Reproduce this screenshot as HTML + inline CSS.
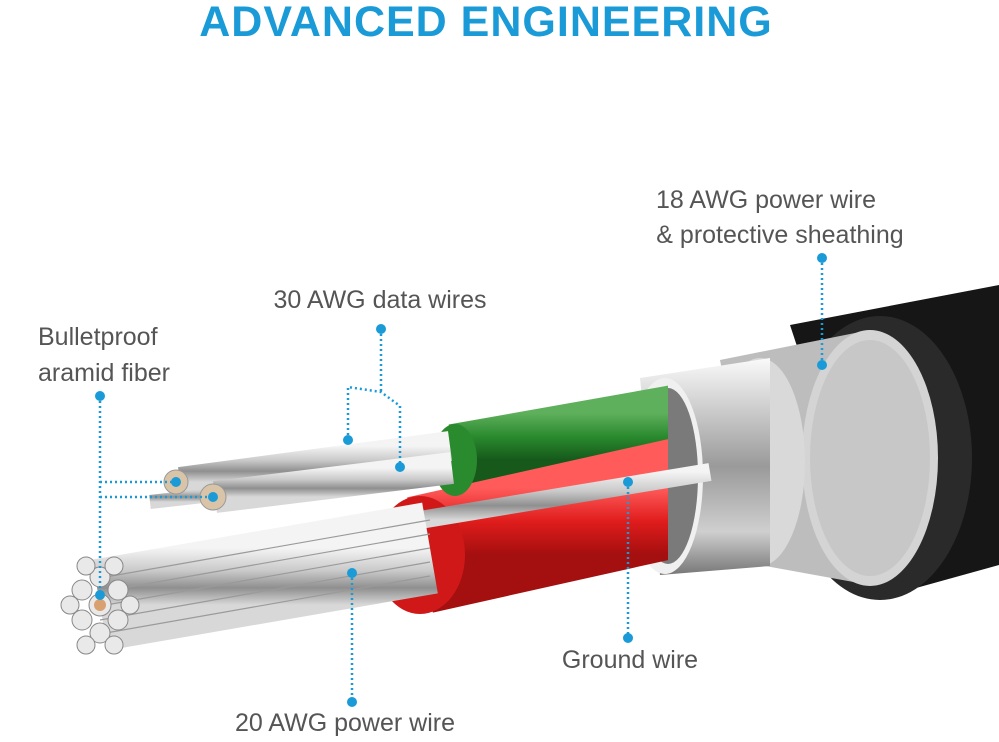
<!DOCTYPE html>
<html><head><meta charset="utf-8"><style>
html,body{margin:0;padding:0;background:#fff;}
svg{display:block;}
text{font-family:"Liberation Sans",sans-serif;}
</style></head><body>
<svg width="999" height="742" viewBox="0 0 999 742" xmlns="http://www.w3.org/2000/svg">
<defs>
<linearGradient id="met" x1="0" y1="0" x2="0" y2="1">
<stop offset="0" stop-color="#f4f4f4"/><stop offset="0.4" stop-color="#c9c9c9"/><stop offset="0.7" stop-color="#8f8f8f"/><stop offset="1" stop-color="#d8d8d8"/></linearGradient>
<linearGradient id="tube" x1="0" y1="0" x2="0" y2="1">
<stop offset="0" stop-color="#fafafa"/><stop offset="0.5" stop-color="#9a9a9a"/><stop offset="0.8" stop-color="#cfcfcf"/><stop offset="1" stop-color="#777"/></linearGradient>
<linearGradient id="red" x1="0" y1="0" x2="0" y2="1">
<stop offset="0" stop-color="#ff5b5b"/><stop offset="0.5" stop-color="#e01c1c"/><stop offset="1" stop-color="#a40f0f"/></linearGradient>
<linearGradient id="grn" x1="0" y1="0" x2="0" y2="1">
<stop offset="0" stop-color="#5fb05c"/><stop offset="0.5" stop-color="#2a8a2e"/><stop offset="1" stop-color="#16591b"/></linearGradient>
<clipPath id="cl"><rect x="0" y="0" width="668" height="742"/></clipPath>
</defs>
<text x="486" y="36" font-size="43" font-weight="bold" fill="#1a9bd7" text-anchor="middle" letter-spacing="1">ADVANCED ENGINEERING</text>

<!-- black jacket -->
<polygon points="790,325 999,285 999,565 880,598" fill="#161616"/>
<ellipse cx="880" cy="458" rx="92" ry="142" fill="#2a2a2a"/>
<!-- braided shield -->
<polygon points="720,360 870,330 870,585 760,565" fill="#bdbdbd"/>
<ellipse cx="870" cy="458" rx="68" ry="128" fill="#d4d4d4"/>
<ellipse cx="870" cy="458" rx="60" ry="118" fill="#c2c2c2" opacity="0.7"/>
<ellipse cx="760" cy="462" rx="45" ry="104" fill="#d9d9d9"/>
<!-- foil tube -->
<polygon points="640,378 770,358 770,566 660,575" fill="url(#tube)"/>
<ellipse cx="665" cy="476" rx="38" ry="98" fill="#f0f0f0"/>
<ellipse cx="668" cy="476" rx="30" ry="88" fill="#7a7a7a"/>
<g clip-path="url(#cl)">
<!-- green -->
<line x1="455" y1="460" x2="720" y2="413" stroke="url(#grn)" stroke-width="72" stroke-linecap="butt"/>
<!-- red -->
<line x1="420" y1="555" x2="720" y2="488" stroke="url(#red)" stroke-width="118" stroke-linecap="butt"/>
</g>
<ellipse cx="455" cy="460" rx="22" ry="36" fill="#2a8a2e"/>
<ellipse cx="420" cy="555" rx="45" ry="59" fill="#d01818"/>
<!-- data wires -->
<line x1="180" y1="482" x2="450" y2="446" stroke="url(#met)" stroke-width="30"/>
<line x1="150" y1="502" x2="300" y2="485" stroke="url(#met)" stroke-width="14"/>
<line x1="215" y1="497" x2="452" y2="468" stroke="url(#met)" stroke-width="32"/>
<circle cx="176" cy="482" r="12" fill="#d9c4a8" stroke="#999"/>
<circle cx="213" cy="497" r="13" fill="#d9c4a8" stroke="#999"/>
<!-- ground wire -->
<line x1="420" y1="520" x2="710" y2="472" stroke="url(#met)" stroke-width="18"/>
<!-- main silver bundle -->
<line x1="100" y1="605" x2="430" y2="548" stroke="url(#met)" stroke-width="92"/>
<g stroke="#9a9a9a" stroke-width="1.2">
<line x1="100" y1="578" x2="430" y2="520"/><line x1="100" y1="592" x2="430" y2="534"/>
<line x1="100" y1="606" x2="430" y2="548"/><line x1="100" y1="620" x2="430" y2="562"/>
<line x1="100" y1="634" x2="430" y2="576"/></g>
<g fill="#e9e9e9" stroke="#888">
<circle cx="100" cy="605" r="11"/><circle cx="82" cy="590" r="10"/><circle cx="118" cy="590" r="10"/>
<circle cx="82" cy="620" r="10"/><circle cx="118" cy="620" r="10"/><circle cx="100" cy="577" r="10"/>
<circle cx="100" cy="633" r="10"/><circle cx="70" cy="605" r="9"/><circle cx="130" cy="605" r="9"/>
<circle cx="86" cy="645" r="9"/><circle cx="114" cy="645" r="9"/><circle cx="86" cy="566" r="9"/><circle cx="114" cy="566" r="9"/></g>
<circle cx="100" cy="605" r="6" fill="#d9a070"/>

<!-- callouts -->
<g stroke="#1a9bd7" stroke-width="2.5" stroke-dasharray="2 3" fill="none">
<line x1="822" y1="258" x2="822" y2="365"/>
<polyline points="381,329 381,392"/>
<polyline points="348,440 348,387 381,392 400,406 400,467"/>
<line x1="100" y1="396" x2="100" y2="595"/>
<line x1="100" y1="482" x2="176" y2="482"/>
<line x1="100" y1="497" x2="213" y2="497"/>
<line x1="352" y1="573" x2="352" y2="702"/>
<line x1="628" y1="482" x2="628" y2="638"/>
</g>
<g fill="#1a9bd7">
<circle cx="822" cy="258" r="5"/><circle cx="822" cy="365" r="5"/>
<circle cx="381" cy="329" r="5"/><circle cx="348" cy="440" r="5"/><circle cx="400" cy="467" r="5"/>
<circle cx="100" cy="396" r="5"/><circle cx="100" cy="595" r="5"/><circle cx="176" cy="482" r="5"/><circle cx="213" cy="497" r="5"/>
<circle cx="352" cy="573" r="5"/><circle cx="352" cy="702" r="5"/>
<circle cx="628" cy="482" r="5"/><circle cx="628" cy="638" r="5"/>
</g>

<g fill="#555" font-size="25">
<text x="766" y="208" text-anchor="middle">18 AWG power wire</text>
<text x="780" y="243" text-anchor="middle">&amp; protective sheathing</text>
<text x="380" y="308" text-anchor="middle">30 AWG data wires</text>
<text x="38" y="345">Bulletproof</text>
<text x="38" y="381">aramid fiber</text>
<text x="630" y="668" text-anchor="middle">Ground wire</text>
<text x="345" y="731" text-anchor="middle">20 AWG power wire</text>
</g>
</svg>
</body></html>
